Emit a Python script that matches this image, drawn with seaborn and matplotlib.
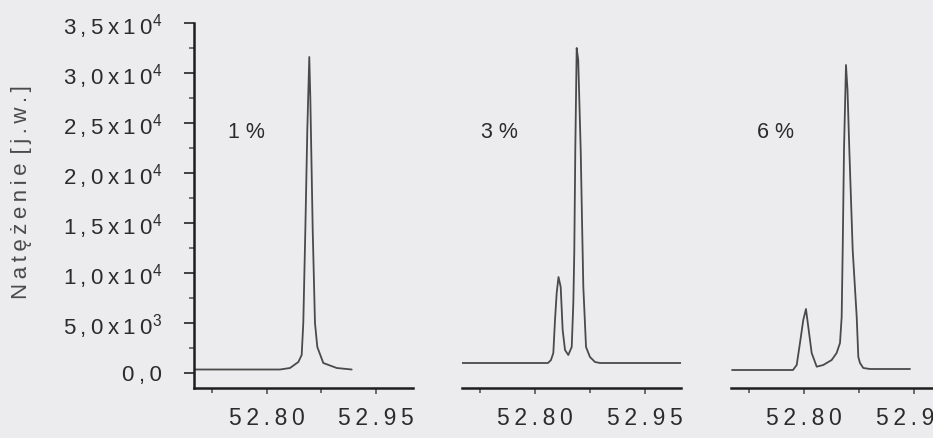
import matplotlib
matplotlib.use("Agg")
import matplotlib.pyplot as plt
from matplotlib.ticker import FixedLocator, NullFormatter
import seaborn as sns
import pandas as pd

# ---------------- data ----------------
p1_x = [52.700, 52.8185, 52.8322, 52.8436, 52.8482, 52.8504, 52.8532, 52.8559,
        52.8586, 52.8600, 52.8633, 52.8664, 52.8696, 52.8778, 52.8962, 52.9167]
p1_y = [350, 350, 500, 1100, 1800, 5000, 14300, 24300,
        31600, 27600, 14300, 5000, 2600, 1000, 500, 350]

p2_x = [52.700, 52.8178, 52.8219, 52.8251, 52.8274, 52.8297, 52.8322, 52.8352,
        52.8379, 52.8411, 52.8456, 52.8503, 52.8525, 52.8538, 52.8552, 52.8571,
        52.8592, 52.8626, 52.8644, 52.8662, 52.8699, 52.8753, 52.8822, 52.8890,
        53.000]
p2_y = [1000, 1000, 1300, 2000, 5300, 8000, 9600, 8600,
        4300, 2300, 1800, 2600, 7000, 12000, 22300, 32500,
        31300, 22300, 15300, 8600, 2600, 1600, 1100, 1000,
        1000]

p3_x = [52.7014, 52.7849, 52.7900, 52.7945, 52.7990, 52.8027, 52.8059, 52.8105,
        52.8174, 52.8264, 52.8379, 52.8447, 52.8493, 52.8516, 52.8530, 52.8548,
        52.8575, 52.8596, 52.8621, 52.8667, 52.8722, 52.8744, 52.8767, 52.8812,
        52.8904, 52.9452]
p3_y = [300, 300, 800, 3000, 5300, 6400, 4600, 2000,
        630, 800, 1300, 2000, 3000, 5600, 12300, 22300,
        30800, 28300, 22300, 12300, 5600, 1600, 1000, 500,
        400, 400]

panel_labels = ["1 %", "3 %", "6 %"]
label_x = [52.747, 52.726, 52.735]
label_y = [24000, 24000, 24000]

T = "\u2009"  # thin space used for the wide letter spacing of the original
y_ticks = [0, 5000, 10000, 15000, 20000, 25000, 30000, 35000]
y_tick_labels = [T.join("0,0"),
                 T.join("5,0x10") + "$^{3}$",
                 T.join("1,0x10") + "$^{4}$",
                 T.join("1,5x10") + "$^{4}$",
                 T.join("2,0x10") + "$^{4}$",
                 T.join("2,5x10") + "$^{4}$",
                 T.join("3,0x10") + "$^{4}$",
                 T.join("3,5x10") + "$^{4}$"]
y_minor = [2500, 7500, 12500, 17500, 22500, 27500, 32500]
x_ticks = [52.80, 52.95]
x_tick_labels = [T.join("52.80"), T.join("52.95")]
x_minor = [52.725, 52.875]
y_label = T.join("Natężenie") + T + T + T.join("[j.w.]")

# ---------------- style ----------------
sns.set_theme(style="ticks")
bg = "#ececee"
plt.rcParams["font.family"] = ["Liberation Sans", "DejaVu Sans"]
plt.rcParams["mathtext.fontset"] = "custom"
plt.rcParams["mathtext.rm"] = "Liberation Sans"
plt.rcParams["mathtext.it"] = "Liberation Sans:italic"
plt.rcParams["mathtext.bf"] = "Liberation Sans:bold"

W, H = 933, 438
fig = plt.figure(figsize=(W / 100, H / 100), dpi=100, facecolor=bg)

text_col = "#2b2b2b"
line_col = "#4a4a4a"
spine_col = "#1e1e1e"

lefts = [193.5, 462.0, 731.0]
bottom_px = 388.0
top_px = 23.0
width_px = 219.0

series = [(p1_x, p1_y), (p2_x, p2_y), (p3_x, p3_y)]
for i, (xs, ys) in enumerate(series):
    ax = fig.add_axes([lefts[i] / W, (H - bottom_px) / H, width_px / W, (bottom_px - top_px) / H])
    ax.set_facecolor("none")
    df = pd.DataFrame({"x": xs, "y": ys})
    sns.lineplot(data=df, x="x", y="y", ax=ax, sort=False, estimator=None,
                 color=line_col, linewidth=1.3)
    ax.set_xlim(52.70, 53.00)
    ax.set_ylim(-1500, 35000)
    ax.set_xlabel("")
    ax.set_ylabel("")
    for s in ["top", "right"]:
        ax.spines[s].set_visible(False)
    ax.spines["bottom"].set_color(spine_col)
    ax.spines["bottom"].set_linewidth(1.8)
    ax.xaxis.set_major_locator(FixedLocator(x_ticks))
    ax.set_xticklabels(x_tick_labels)
    ax.xaxis.set_minor_locator(FixedLocator(x_minor))
    ax.tick_params(axis="x", which="major", direction="out", length=4, width=1.2,
                   color="#555555", labelsize=16.5, labelcolor=text_col, pad=10)
    ax.tick_params(axis="x", which="minor", direction="out", length=3.5, width=1.2,
                   color="#555555")
    if i == 0:
        ax.spines["left"].set_color(spine_col)
        ax.spines["left"].set_linewidth(1.8)
        ax.yaxis.set_major_locator(FixedLocator(y_ticks))
        ax.set_yticklabels(y_tick_labels)
        ax.yaxis.set_minor_locator(FixedLocator(y_minor))
        ax.yaxis.set_minor_formatter(NullFormatter())
        ax.tick_params(axis="y", which="major", direction="out", length=7.5, width=1.3,
                       color="#333333", labelsize=16, labelcolor=text_col, pad=15)
        ax.tick_params(axis="y", which="minor", direction="out", length=3.5, width=1.3,
                       color="#666666")
    else:
        ax.spines["left"].set_visible(False)
        ax.set_yticks([])
    ax.text(label_x[i], label_y[i], panel_labels[i], ha="left", va="center",
            fontsize=15.5, color=text_col)

fig.text(22 / W, 1 - 192 / H, y_label, rotation=90, ha="center", va="center",
         fontsize=16, color="#4a4a4a")

fig.savefig("out.png", dpi=100, facecolor=bg)
